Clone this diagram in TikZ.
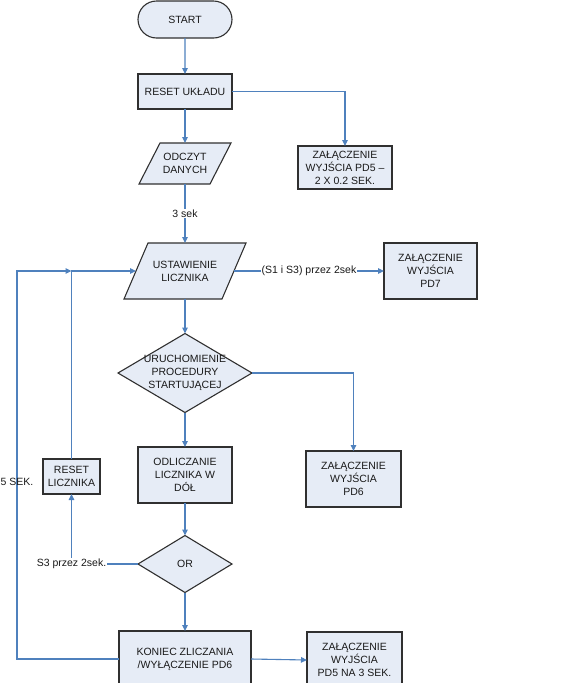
\documentclass[tikz,border=0pt]{standalone}
\usepackage{fontspec}
\setmainfont{Liberation Sans}
\usetikzlibrary{shapes.geometric,shapes.misc,arrows.meta}
\definecolor{flowc}{HTML}{4F81BD}
\definecolor{boxfill}{HTML}{E6ECF6}
\definecolor{boxedge}{HTML}{303030}
\begin{document}
\begin{tikzpicture}[x=1pt,y=-1pt,
  every node/.style={font=\fontsize{10.5}{13}\selectfont, text=black!90, align=center, inner sep=0pt, outer sep=0pt},
  box/.style={rectangle, draw=boxedge, fill=boxfill, line width=1.1pt},
  term/.style={rounded rectangle, draw=boxedge, fill=boxfill, line width=1.1pt},
  dec/.style={diamond, draw=boxedge, fill=boxfill, line width=1.1pt},
  para/.style={draw=boxedge, fill=boxfill, line width=1.1pt, line join=miter},
  anchorbox/.style={rectangle},
  flow/.style={draw=flowc, line width=1.1pt, -{Triangle[length=6pt,width=5.5pt]}},
  flowplain/.style={draw=flowc, line width=1.1pt},
  lbl/.style={fill=white, inner sep=1pt}
]
\useasboundingbox (0,0) rectangle (568,689);
\begin{scope}
\clip (0,0) rectangle (568,682);

% nodes
\node[term, minimum width=94, minimum height=37] (start) at (185,19.5) {START};
\node[box, minimum width=94, minimum height=35] (reset) at (185,91.5) {RESET UKŁADU};
\node[box, minimum width=94, minimum height=43] (pd5) at (345,167.5) {ZAŁĄCZENIE\\WYJŚCIA PD5 –\\2 X 0.2 SEK.};

\path[para] (160,143) -- (231,143) -- (210,184) -- (139,184) -- cycle;
\node[anchorbox, minimum width=71, minimum height=41] (odc) at (185,163.5) {ODCZYT\\DANYCH};

\path[para] (148,243) -- (246,243) -- (222,299) -- (124,299) -- cycle;
\node[anchorbox, minimum width=98, minimum height=56] (ust) at (185,271) {USTAWIENIE\\LICZNIKA};

\node[box, minimum width=93, minimum height=56] (pd7) at (430.5,271) {ZAŁĄCZENIE\\WYJŚCIA\\PD7};

\node[dec, minimum width=134, minimum height=79] (uru) at (185,373) {};
\node (urutxt) at (uru.center) {URUCHOMIENIE\\PROCEDURY\\STARTUJĄCEJ};

\node[box, minimum width=95, minimum height=56] (pd6) at (353.5,479) {ZAŁĄCZENIE\\WYJŚCIA\\PD6};
\node[box, minimum width=94, minimum height=56] (odl) at (185,475) {ODLICZANIE\\LICZNIKA W\\DÓŁ};
\node[box, minimum width=57, minimum height=35] (rl) at (71.5,476.5) {RESET\\LICZNIKA};

\node[dec, minimum width=94, minimum height=57] (orr) at (185,564) {};
\node (ortxt) at (orr.center) {OR};

\node[box, minimum width=132, minimum height=56] (kon) at (185,659) {KONIEC ZLICZANIA\\/WYŁĄCZENIE PD6};
\node[box, minimum width=95, minimum height=56] (pd5b) at (354.5,660) {ZAŁĄCZENIE\\WYJŚCIA\\PD5 NA 3 SEK.};

\coordinate (loopL) at (17,271);
\coordinate (jn) at (71.5,271);

% connectors
\draw[flow] (start) -- (reset);
\draw[flow] (reset.east) -| (pd5.north);
\draw[flow] (reset) -- (odc);
\draw[flow] (odc) -- node[lbl] {3 sek} (ust);
\draw[flow] (ust.east) -- node[lbl] {(S1 i S3) przez 2sek} (pd7.west);
\draw[flow] (ust) -- (uru);
\draw[flow] (uru.east) -| (pd6.north);
\draw[flow] (uru) -- (odl);
\draw[flow] (odl) -- (orr);
\draw[flow] (orr) -- (kon);
\draw[flow] (kon.east) -- (pd5b.west);
\draw[flow] (orr.west) -| node[lbl, pos=0.5] {S3 przez 2sek.} (rl.south);
\draw[flow] (rl.north) |- (ust.west);
\draw[flow] (kon.west) -| (loopL) -- (jn);
\node (fivesek) at (17,482) {5 SEK.};
\end{scope}
\end{tikzpicture}
\end{document}
